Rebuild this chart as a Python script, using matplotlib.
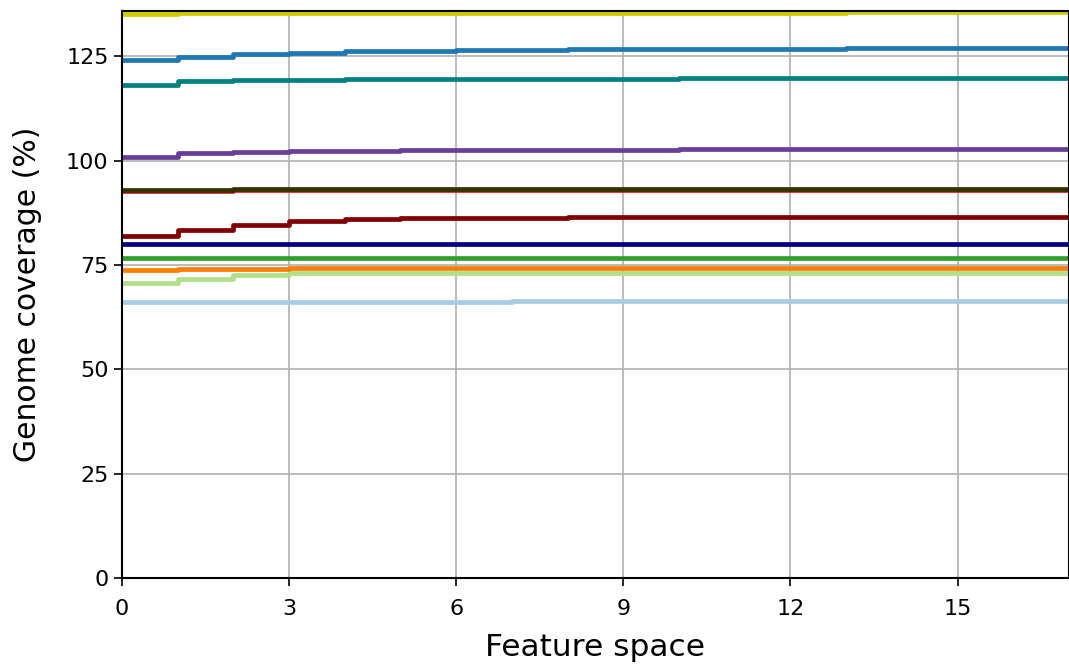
# genome coverage vs feature space, step lines
import numpy as np
import matplotlib
matplotlib.use('Agg')
import matplotlib.pyplot as plt

x = np.arange(0, 18)

yellow = [135.2, 135.3, 135.3, 135.3, 135.4, 135.4, 135.4, 135.4, 135.5, 135.5,
          135.5, 135.5, 135.5, 135.6, 135.6, 135.6, 135.6, 135.6]
blue = [124.2, 124.9, 125.5, 125.9, 126.2, 126.4, 126.5, 126.6, 126.7, 126.7,
        126.8, 126.8, 126.8, 126.9, 126.9, 126.9, 126.9, 126.9]
teal = [118.1, 119.0, 119.3, 119.4, 119.5, 119.5, 119.6, 119.6, 119.6, 119.6,
        119.7, 119.7, 119.7, 119.7, 119.7, 119.7, 119.7, 119.7]
purple = [100.9, 101.9, 102.2, 102.3, 102.4, 102.5, 102.5, 102.6, 102.6, 102.6,
          102.7, 102.7, 102.7, 102.7, 102.7, 102.7, 102.7, 102.7]
red = [92.8, 92.8, 92.9, 92.9, 92.9, 92.9, 92.9, 93.0, 93.0, 93.0,
       93.0, 93.0, 93.0, 93.0, 93.0, 93.0, 93.0, 93.0]
olive = [93.0, 93.0, 93.1, 93.1, 93.1, 93.1, 93.1, 93.2, 93.2, 93.2,
         93.2, 93.2, 93.2, 93.2, 93.2, 93.2, 93.2, 93.2]
darkred = [81.9, 83.3, 84.5, 85.5, 86.0, 86.2, 86.3, 86.3, 86.4, 86.4,
           86.4, 86.4, 86.4, 86.4, 86.4, 86.4, 86.4, 86.4]
navy = [80.1] * 18
green = [76.6] * 18
lightgreen = [70.8, 71.7, 72.6, 73.1, 73.2, 73.2, 73.2, 73.2, 73.2, 73.2,
              73.2, 73.2, 73.2, 73.2, 73.2, 73.2, 73.2, 73.2]
orange = [73.9, 74.0, 74.1, 74.2, 74.2, 74.3, 74.3, 74.3, 74.3, 74.3,
          74.3, 74.3, 74.3, 74.3, 74.3, 74.3, 74.3, 74.3]
lightblue = [66.1, 66.1, 66.2, 66.2, 66.2, 66.2, 66.2, 66.3, 66.3, 66.3,
             66.3, 66.3, 66.3, 66.3, 66.3, 66.3, 66.3, 66.3]

series = [
    (lightblue, '#a6cee3'),
    (lightgreen, '#b2df8a'),
    (orange, '#ff7f00'),
    (green, '#33a02c'),
    (navy, '#000080'),
    (darkred, '#800000'),
    (red, '#e31a1c'),
    (olive, '#333300'),
    (purple, '#6a3d9a'),
    (teal, '#008080'),
    (blue, '#1f77b4'),
    (yellow, '#cccc00'),
]

fig = plt.figure(figsize=(10.69, 6.64), dpi=100)
ax = fig.add_axes([0.114, 0.1295, 0.886, 0.8535])

for vals, col in series:
    ax.plot(x, vals, drawstyle='steps-post', color=col, linewidth=3.4)

ax.set_xlim(0, 17)
ax.set_ylim(0, 135.8)
ax.set_xticks([0, 3, 6, 9, 12, 15])
ax.set_yticks([0, 25, 50, 75, 100, 125])
ax.grid(True, color='#b0b0b0', linewidth=1.2)
ax.tick_params(labelsize=16, length=6, width=1.2)
ax.tick_params(axis='x', pad=9)
for s in ax.spines.values():
    s.set_linewidth(1.5)
ax.set_xlabel('Feature space', fontsize=22.5, labelpad=10)
ax.set_ylabel('Genome coverage (%)', fontsize=21.5, labelpad=17)

plt.savefig('out.png', dpi=100)
